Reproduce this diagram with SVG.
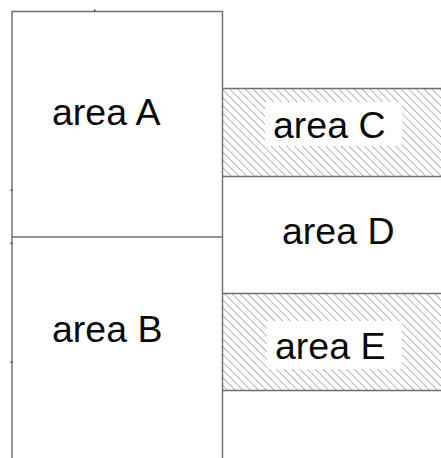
<svg xmlns="http://www.w3.org/2000/svg" width="441" height="458" viewBox="0 0 441 458">
  <style>
    .ln { stroke: #6e6e6e; stroke-width: 1.4; fill: none; }
    .lbl { font-family: "Liberation Sans", Arial, sans-serif; font-size: 37.5px; fill: #0a0a0a; }
    .tick { fill: #444; }
  </style>
  <defs>
    <pattern id="hatch" patternUnits="userSpaceOnUse" width="5.5" height="6" patternTransform="rotate(-45)">
      <line x1="0" y1="0" x2="0" y2="6" stroke="#555" stroke-width="0.9"/>
    </pattern>
  </defs>
  <rect width="441" height="458" fill="#fff"/>

  <g id="areaC">
    <rect x="222.5" y="88.5" width="219" height="88" fill="url(#hatch)"/>
    <rect x="265" y="102" width="137" height="44" fill="#fff"/>
    <line class="ln" x1="222.5" y1="88.5" x2="441" y2="88.5"/>
    <line class="ln" x1="222.5" y1="176.5" x2="441" y2="176.5"/>
    <text class="lbl" x="273" y="138">area C</text>
  </g>

  <g id="areaD">
    <text class="lbl" x="282" y="244">area D</text>
  </g>

  <g id="areaE">
    <rect x="222.5" y="293.5" width="219" height="97" fill="url(#hatch)"/>
    <rect x="267" y="321" width="135" height="48" fill="#fff"/>
    <line class="ln" x1="222.5" y1="293.5" x2="441" y2="293.5"/>
    <line class="ln" x1="222.5" y1="390.5" x2="441" y2="390.5"/>
    <text class="lbl" x="275" y="359">area E</text>
  </g>

  <g id="areaA">
    <path class="ln" d="M12 458 V11.5 H222.5 V458"/>
    <text class="lbl" x="52" y="125">area A</text>
  </g>

  <g id="areaB">
    <line class="ln" x1="12" y1="237" x2="222.5" y2="237"/>
    <text class="lbl" x="52" y="342">area B</text>
  </g>

  <g id="ticks">
    <rect class="tick" x="94" y="9.5" width="1.5" height="2"/>
    <rect class="tick" x="10.5" y="189.5" width="2" height="1.5"/>
    <rect class="tick" x="10.5" y="242.5" width="2" height="1.5"/>
    <rect class="tick" x="10.5" y="361.5" width="2" height="1.5"/>
  </g>
</svg>
